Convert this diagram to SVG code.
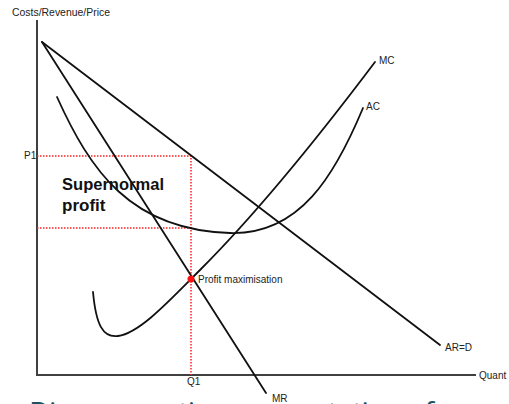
<svg xmlns="http://www.w3.org/2000/svg" width="509" height="404" viewBox="0 0 509 404">
  <style>
    .lbl { font-family: "Liberation Sans", Arial, sans-serif; font-size: 10px; fill: #222; }
    .big { font-family: "Liberation Sans", Arial, sans-serif; font-size: 17px; font-weight: bold; fill: #111; }
    .curve { fill: none; stroke: #111; stroke-width: 1.8; stroke-linecap: round; }
    .axis { fill: none; stroke: #404040; stroke-width: 2; }
    .dot { fill: none; stroke: #ff2020; stroke-width: 1.5; stroke-dasharray: 1.5 1.5; }
    .title { font-family: "Open Sans", "Liberation Sans", sans-serif; font-size: 29px; fill: #1d5262; }
  </style>
  <rect width="509" height="404" fill="#ffffff"/>

  <g id="axes">
    <path class="axis" d="M37,20 V375 H476"/>
    <text class="lbl" x="12" y="16" textLength="98" lengthAdjust="spacingAndGlyphs">Costs/Revenue/Price</text>
    <text class="lbl" x="479" y="379">Quant</text>
  </g>

  <g id="guides">
    <path class="dot" d="M37,156 H191 V375"/>
    <path class="dot" d="M37,228 H193"/>
    <text class="lbl" x="24" y="159">P1</text>
    <text class="lbl" x="187" y="385">Q1</text>
  </g>

  <g id="connectors">
    <path id="ar" class="curve" d="M42,42 L440,345"/>
    <path id="mr" class="curve" d="M42,42 L266,393"/>
    <path id="ac" class="curve" d="M57,97 C90,170 130,230 230,233 C300,235 335,175 363,108"/>
    <path id="mc" class="curve" d="M93,292 C96,325 103,338 118,336 C140,333 170,300 200,270 C260,210 320,135 375,62"/>
  </g>

  <g id="labels">
    <text class="lbl" x="379" y="64">MC</text>
    <text class="lbl" x="366" y="110">AC</text>
    <text class="lbl" x="445" y="351">AR=D</text>
    <text class="lbl" x="272" y="402">MR</text>
  </g>

  <g id="supernormal">
    <text class="big" x="62" y="190" textLength="102" lengthAdjust="spacingAndGlyphs">Supernormal</text>
    <text class="big" x="62" y="211">profit</text>
  </g>

  <g id="profit-max">
    <circle cx="191" cy="279" r="3.5" fill="#ff1010"/>
    <text class="lbl" x="198" y="283">Profit maximisation</text>
  </g>

  <text class="title" x="29" y="423" textLength="405" lengthAdjust="spacing">Diagrammatic representation of</text>
</svg>
